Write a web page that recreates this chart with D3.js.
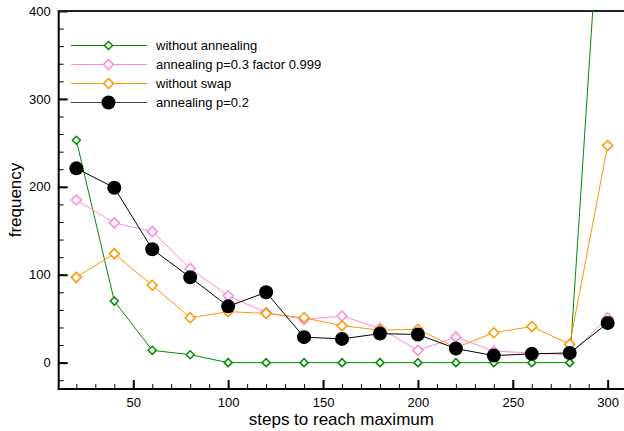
<!DOCTYPE html>
<html>
<head>
<meta charset="utf-8">
<script src="https://cdn.jsdelivr.net/npm/d3@7"></script>
<style>
  body { margin: 0; background: #fff; }
  svg { display: block; font-family: "Liberation Sans", Arial, sans-serif; }
</style>
</head>
<body>
<div id="chart"></div>
<script>
const w = 624;
const h = 431;

// data
const steps = [20, 40, 60, 80, 100, 120, 140, 160, 180, 200, 220, 240, 260, 280, 300];
const withoutAnnealing = [253, 70, 14, 9, 0, 0, 0, 0, 0, 0, 0, 0, 0, 0, 660];
const annealingP03 = [185, 159, 149, 107, 76, 57, 49, 53, 39, 14, 29, 13, 11, 9, 51];
const withoutSwap = [97, 124, 88, 51, 58, 56, 51, 42, 37, 38, 17, 34, 41, 21, 247];
const annealingP02 = [221, 199, 129, 97, 64, 80, 29, 27, 33, 32, 16, 8, 10, 11, 45];

const xMajor = [50, 100, 150, 200, 250, 300];
const yMajor = [0, 100, 200, 300, 400];

const series = [
  { name: "without annealing", values: withoutAnnealing, color: "#008c00", shape: "diamond", size: 4 },
  { name: "annealing p=0.3 factor 0.999", values: annealingP03, color: "#ff88dd", shape: "diamond", size: 5 },
  { name: "without swap", values: withoutSwap, color: "#ff9500", shape: "diamond", size: 5 },
  { name: "annealing p=0.2", values: annealingP02, color: "#000000", shape: "circle", size: 7 }
];

const plot = { left: 58.7, right: 624, top: 11, bottom: 389 };

const x = d3.scaleLinear().domain([10.7, 308.6]).range([plot.left, plot.right]);
const y = d3.scaleLinear().domain([-30, 400]).range([plot.bottom, plot.top]);

const svg = d3.select("#chart").append("svg")
  .attr("width", w)
  .attr("height", h);

svg.append("defs").append("clipPath").attr("id", "clip")
  .append("rect")
  .attr("x", plot.left).attr("y", plot.top)
  .attr("width", plot.right - plot.left).attr("height", plot.bottom - plot.top);

// minor ticks
svg.append("g")
  .attr("transform", `translate(0, ${plot.bottom})`)
  .call(d3.axisBottom(x).tickValues(d3.range(20, 310, 10)).tickSize(-5).tickFormat(""))
  .call(g => g.select(".domain").remove());
svg.append("g")
  .attr("transform", `translate(${plot.left}, 0)`)
  .call(d3.axisLeft(y).tickValues(d3.range(-20, 400, 20)).tickSize(-5).tickFormat(""))
  .call(g => g.select(".domain").remove());

// major ticks
const xAxis = svg.append("g")
  .attr("transform", `translate(0, ${plot.bottom})`)
  .call(d3.axisBottom(x).tickValues(xMajor).tickSize(-9).tickPadding(9));
xAxis.select(".domain").remove();
xAxis.selectAll(".tick line").attr("stroke-width", 2);
xAxis.selectAll("text").attr("font-size", 13).attr("fill", "#000").style("font-family", "Liberation Sans, Arial, sans-serif");

const yAxis = svg.append("g")
  .attr("transform", `translate(${plot.left}, 0)`)
  .call(d3.axisLeft(y).tickValues(yMajor).tickSize(-9).tickPadding(8));
yAxis.select(".domain").remove();
yAxis.selectAll(".tick line").attr("stroke-width", 2);
yAxis.selectAll("text").attr("font-size", 13).attr("fill", "#000").style("font-family", "Liberation Sans, Arial, sans-serif");

// frame lines
svg.append("line")
  .attr("x1", plot.left).attr("x2", plot.left)
  .attr("y1", plot.top).attr("y2", plot.bottom + 1)
  .attr("stroke", "#000").attr("stroke-width", 2);
svg.append("line")
  .attr("x1", plot.left - 1).attr("x2", plot.right)
  .attr("y1", plot.bottom).attr("y2", plot.bottom)
  .attr("stroke", "#000").attr("stroke-width", 2);
svg.append("line")
  .attr("x1", plot.left - 1).attr("x2", plot.right)
  .attr("y1", plot.top).attr("y2", plot.top)
  .attr("stroke", "#222").attr("stroke-width", 2);

// axis titles
svg.append("text")
  .attr("x", (plot.left + 608) / 2 + 8)
  .attr("y", 425)
  .attr("text-anchor", "middle")
  .attr("font-size", 17)
  .text("steps to reach maximum");

svg.append("text")
  .attr("transform", `translate(21, ${(plot.top + plot.bottom) / 2}) rotate(-90)`)
  .attr("text-anchor", "middle")
  .attr("font-size", 17)
  .text("frequency");

const diamond = s => `M0,${-s}L${s},0L0,${s}L${-s},0Z`;

function drawMarker(g, s, px, py) {
  if (s.shape === "circle") {
    g.append("circle")
      .attr("cx", px).attr("cy", py).attr("r", s.size)
      .attr("fill", s.color);
  } else {
    g.append("path")
      .attr("d", diamond(s.size))
      .attr("transform", `translate(${px}, ${py})`)
      .attr("fill", "#fff")
      .attr("stroke", s.color)
      .attr("stroke-width", 1.5);
  }
}

const plotArea = svg.append("g").attr("clip-path", "url(#clip)");
const line = d3.line().x((d, i) => x(steps[i])).y(d => y(d));

series.forEach(s => {
  const g = plotArea.append("g");
  g.append("path")
    .datum(s.values)
    .attr("d", line)
    .attr("fill", "none")
    .attr("stroke", s.color)
    .attr("stroke-width", 1);
  s.values.forEach((v, i) => drawMarker(g, s, x(steps[i]), y(v)));
});

// legend
const legend = svg.append("g").attr("id", "legend");
series.forEach((s, i) => {
  const ly = 45.5 + i * 19;
  legend.append("line")
    .attr("x1", 71).attr("x2", 147)
    .attr("y1", ly).attr("y2", ly)
    .attr("stroke", s.shape === "circle" ? "#444" : s.color)
    .attr("stroke-width", 1);
  drawMarker(legend, s, 108.5, ly);
  legend.append("text")
    .attr("x", 156)
    .attr("y", ly)
    .attr("dy", "0.35em")
    .attr("font-size", 13)
    .text(s.name);
});
</script>
</body>
</html>
